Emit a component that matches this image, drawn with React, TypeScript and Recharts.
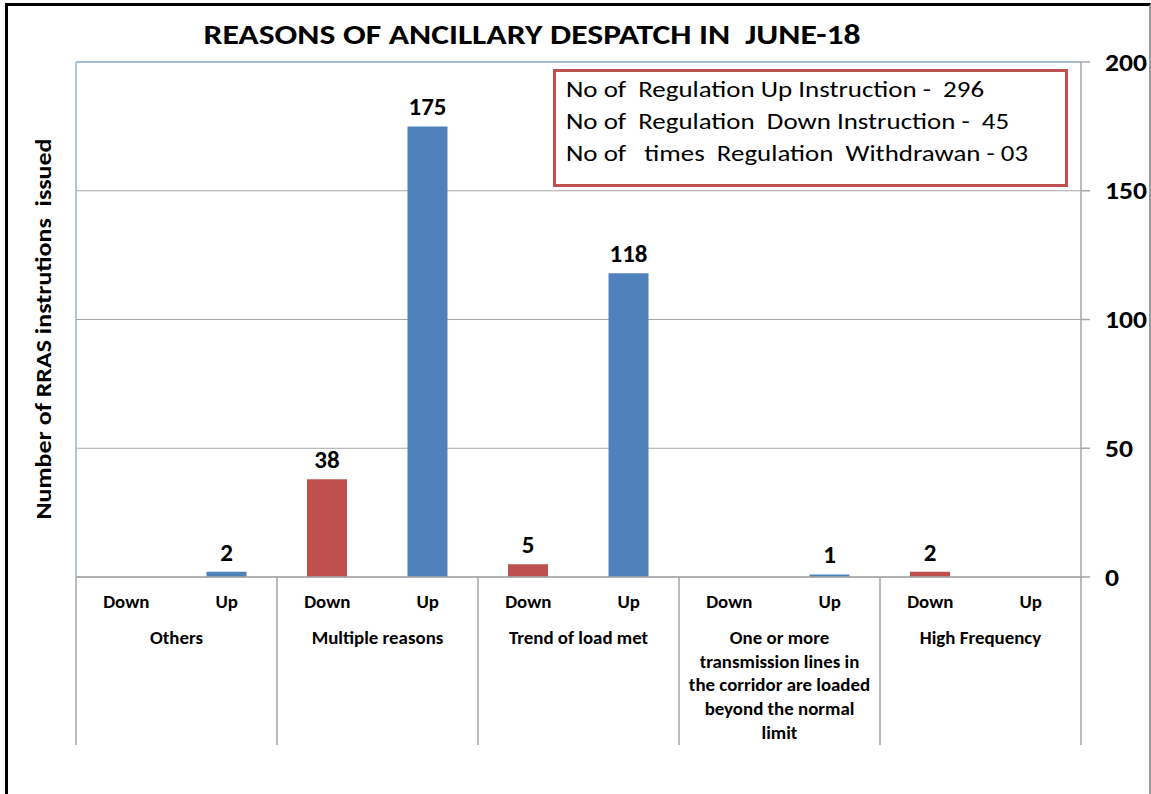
import React from 'react';
import { BarChart, Bar, XAxis, YAxis, CartesianGrid, Cell, LabelList, ReferenceLine } from 'recharts';

const groups = [
  'Others',
  'Multiple reasons',
  'Trend of load met',
  'One or more\ntransmission lines in\nthe corridor are loaded\nbeyond the normal\nlimit',
  'High Frequency',
];
const subLabels = ['Down', 'Up'];
const downValues: (number | null)[] = [null, 38, 5, null, 2];
const upValues: (number | null)[] = [2, 175, 118, 1, null];
const yTicks = [0, 50, 100, 150, 200];
const title = 'REASONS OF ANCILLARY DESPATCH IN  JUNE-18';
const yLabel = 'Number of RRAS instrutions  issued';
const notes = [
  'No of  Regulation Up Instruction -  296',
  'No of  Regulation  Down Instruction -  45',
  'No of   times  Regulation  Withdrawan - 03',
];

const colors: Record<string, string> = { Down: '#c0504d', Up: '#4f81bd' };

const data = groups.flatMap((g, i) => [
  { sub: subLabels[0], group: g, value: downValues[i] },
  { sub: subLabels[1], group: g, value: upValues[i] },
]);

const W = 1151;
const H = 794;
const LEFT_W = 76;
const RIGHT_W = 60;
const MARGIN = { top: 62, right: 10, left: 0, bottom: 0 };
const X_H = 217;
const PLOT_W = W - LEFT_W - RIGHT_W - MARGIN.right - MARGIN.left;
const BAND = PLOT_W / data.length;
const FONT = 'Carlito, Lato, sans-serif';
const GRID = '#a6a6a6';
const LIGHT = '#95b3d7';
const SX = 1.08;

const XTick = (props: any) => {
  const { x, y, index } = props;
  const row = data[index];
  if (!row) return null;
  const isFirstOfGroup = row.sub === subLabels[0];
  const isLast = index === data.length - 1;
  const lines = row.group.split('\n');
  const txt = (tx: number, ty: number, s: string, key?: number) => (
    <g key={key} transform={`translate(${tx},${ty}) scale(${SX},1)`}>
      <text x={0} y={0} textAnchor="middle" fontSize={17.5} fontWeight={700} fill="#000" fontFamily={FONT}>
        {s}
      </text>
    </g>
  );
  return (
    <g>
      {txt(x, y + 31, row.sub)}
      {isFirstOfGroup && (
        <>
          <line x1={x - BAND / 2} x2={x - BAND / 2} y1={y} y2={y + 168} stroke={GRID} strokeWidth={1.5} />
          {lines.map((ln: string, k: number) => txt(x + BAND / 2, y + 67 + k * 23.7, ln, k))}
        </>
      )}
      {isLast && <line x1={x + BAND / 2} x2={x + BAND / 2} y1={y} y2={y + 168} stroke={GRID} strokeWidth={1.5} />}
    </g>
  );
};

const YTick = (props: any) => {
  const { x, y, payload } = props;
  return (
    <g transform={`translate(${x},${y}) scale(1.15,1)`}>
      <text x={0} y={0} dy="0.355em" textAnchor="start" fontSize={24} fontWeight={700} fill="#000" fontFamily={FONT}>
        {payload.value}
      </text>
    </g>
  );
};

export default function App() {
  return (
    <div style={{ position: 'fixed', left: 0, top: 0, width: W, height: H, background: '#fff', overflow: 'hidden', fontFamily: FONT }}>
      <div
        style={{
          position: 'absolute',
          left: 5,
          top: 3,
          width: 1141,
          height: 800,
          borderTop: '3px solid #000',
          borderLeft: '3px solid #000',
          borderRight: '2px solid #999',
        }}
      />
      <div
        style={{
          position: 'absolute',
          left: 0,
          top: 19,
          width: 1064,
          textAlign: 'center',
          fontSize: 28,
          lineHeight: '32px',
          fontWeight: 700,
          whiteSpace: 'pre',
          color: '#000',
          transform: 'scaleX(1.2)',
          transformOrigin: '532px 50%',
        }}
      >
        {title}
      </div>
      <div
        style={{
          position: 'absolute',
          left: 43,
          top: 329,
          transform: 'translate(-50%, -50%) rotate(-90deg) scaleX(1.18)',
          fontSize: 22,
          fontWeight: 700,
          whiteSpace: 'pre',
          color: '#000',
        }}
      >
        {yLabel}
      </div>
      <div style={{ position: 'absolute', left: 0, top: 0 }}>
        <BarChart width={W} height={H} data={data} margin={MARGIN} style={{ fontFamily: FONT }}>
          <CartesianGrid yAxisId="r" vertical={false} stroke={GRID} strokeWidth={1} />
          <XAxis
            dataKey="sub"
            height={X_H}
            interval={0}
            tickLine={false}
            tickSize={0}
            tickMargin={0}
            axisLine={{ stroke: GRID, strokeWidth: 1.5 }}
            tick={<XTick />}
          />
          <YAxis
            yAxisId="l"
            orientation="left"
            width={LEFT_W}
            domain={[0, 200]}
            tick={false}
            tickLine={false}
            axisLine={{ stroke: LIGHT, strokeWidth: 1.5 }}
          />
          <YAxis
            yAxisId="r"
            orientation="right"
            width={RIGHT_W}
            domain={[0, 200]}
            ticks={yTicks}
            interval={0}
            tickSize={9}
            tickMargin={15}
            axisLine={{ stroke: GRID, strokeWidth: 1.5 }}
            tickLine={{ stroke: GRID, strokeWidth: 1.5 }}
            tick={<YTick />}
          />
          <ReferenceLine yAxisId="r" y={200} stroke={LIGHT} strokeWidth={1.5} />
          <Bar dataKey="value" yAxisId="r" barSize={40} isAnimationActive={false}>
            {data.map((d, i) => (
              <Cell key={i} fill={colors[d.sub]} />
            ))}
            <LabelList dataKey="value" position="top" offset={11} fill="#000" fontSize={25} fontWeight={700} fontFamily={FONT} />
          </Bar>
        </BarChart>
      </div>
      <div
        style={{
          position: 'absolute',
          left: 553,
          top: 69,
          width: 515,
          height: 118,
          boxSizing: 'border-box',
          border: '3px solid #c0504d',
          background: '#fff',
        }}
      />
      <div
        style={{
          position: 'absolute',
          left: 566,
          top: 73,
          fontSize: 23,
          lineHeight: '32px',
          whiteSpace: 'pre',
          color: '#000',
          transform: 'scaleX(1.17)',
          transformOrigin: 'left top',
        }}
      >
        {notes.map((n, i) => (
          <div key={i}>{n}</div>
        ))}
      </div>
    </div>
  );
}
